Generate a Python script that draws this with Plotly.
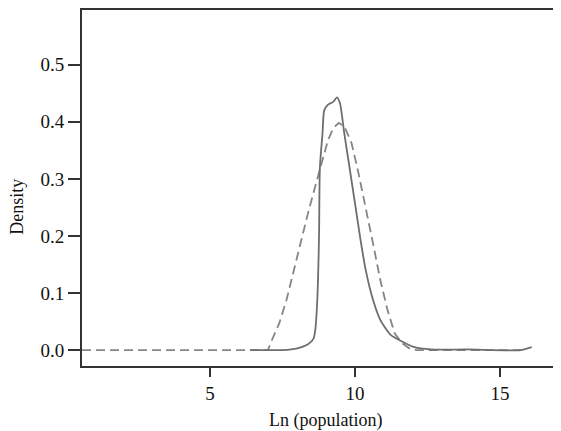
import plotly.graph_objects as go

# empirical density of ln(population) (solid)
solid_x = [6.39, 7.51, 8.01, 8.38, 8.57, 8.63, 8.70, 8.76, 8.79, 8.88, 8.94, 9.07, 9.25, 9.38, 9.48,
           9.63, 9.81, 10.0, 10.19, 10.37, 10.62, 10.87, 11.24, 11.62, 11.99, 12.61, 13.86, 15.72, 16.09]
solid_y = [0.0, 0.0, 0.003, 0.01, 0.02, 0.035, 0.088, 0.2, 0.32, 0.38, 0.42, 0.43, 0.435, 0.443, 0.433,
           0.38, 0.32, 0.257, 0.193, 0.14, 0.088, 0.053, 0.026, 0.015, 0.006, 0.001, 0.001, 0.0, 0.005]

# reference density (dashed)
dash_x = [0.59, 7.0, 7.14, 7.39, 7.64, 7.89, 8.13, 8.38, 8.63, 8.88, 9.07, 9.25, 9.44, 9.63, 9.88,
          10.12, 10.37, 10.62, 10.87, 11.12, 11.37, 11.62, 11.87, 12.11, 15.72]
dash_y = [0.0, 0.0, 0.018, 0.047, 0.088, 0.14, 0.193, 0.24, 0.287, 0.333, 0.368, 0.389, 0.398, 0.392, 0.363,
          0.31, 0.251, 0.187, 0.123, 0.07, 0.029, 0.012, 0.003, 0.0, 0.0]

y_ticks = [0.0, 0.1, 0.2, 0.3, 0.4, 0.5]
x_ticks = [5, 10, 15]

fig = go.Figure()

fig.add_trace(go.Scatter(x = dash_x, y = dash_y, mode = 'lines', line = dict(color = '#858585', width = 1.8, dash = '9px,5px'),
                         showlegend = False))
fig.add_trace(go.Scatter(x = solid_x, y = solid_y, mode = 'lines', line = dict(color = '#6e6e6e', width = 1.8, smoothing = 0.7),
                         line_shape = 'spline', showlegend = False))

tick_font = dict(family = 'Liberation Serif', size = 19, color = '#111')
title_font = dict(family = 'Liberation Serif', size = 18, color = '#111')

# page has an 8px body margin, so the figure is 8px smaller and shifted
fig.update_layout(
    width = 553, height = 423,
    margin = dict(l = 74, r = 0, t = 2, b = 65, autoexpand = False),
    paper_bgcolor = 'white', plot_bgcolor = 'white',
    font = tick_font,
    xaxis = dict(range = [0.59, 17.1], tickvals = x_ticks, ticks = 'outside', ticklen = 9, tickwidth = 1.6,
                 tickcolor = '#333', showline = True, linecolor = '#333', linewidth = 1.8, mirror = True,
                 showgrid = False, zeroline = False, tickfont = tick_font, automargin = False),
    yaxis = dict(range = [-0.028, 0.596], tickvals = y_ticks, tickformat = '.1f', ticks = 'outside', ticklen = 12,
                 tickwidth = 1.6, tickcolor = '#333', showline = True, linecolor = '#333', linewidth = 1.8,
                 showgrid = False, zeroline = False, tickfont = tick_font, automargin = False),
    annotations = [
        dict(text = 'Ln (population)', xref = 'x', yref = 'paper', x = 8.97, y = -0.152, showarrow = False,
             font = title_font, xanchor = 'center', yanchor = 'middle'),
        dict(text = 'Density', xref = 'paper', yref = 'paper', x = -0.136, y = 0.447, showarrow = False,
             textangle = -90, font = title_font, xanchor = 'center', yanchor = 'middle'),
    ],
)

fig.write_html("out.html")
